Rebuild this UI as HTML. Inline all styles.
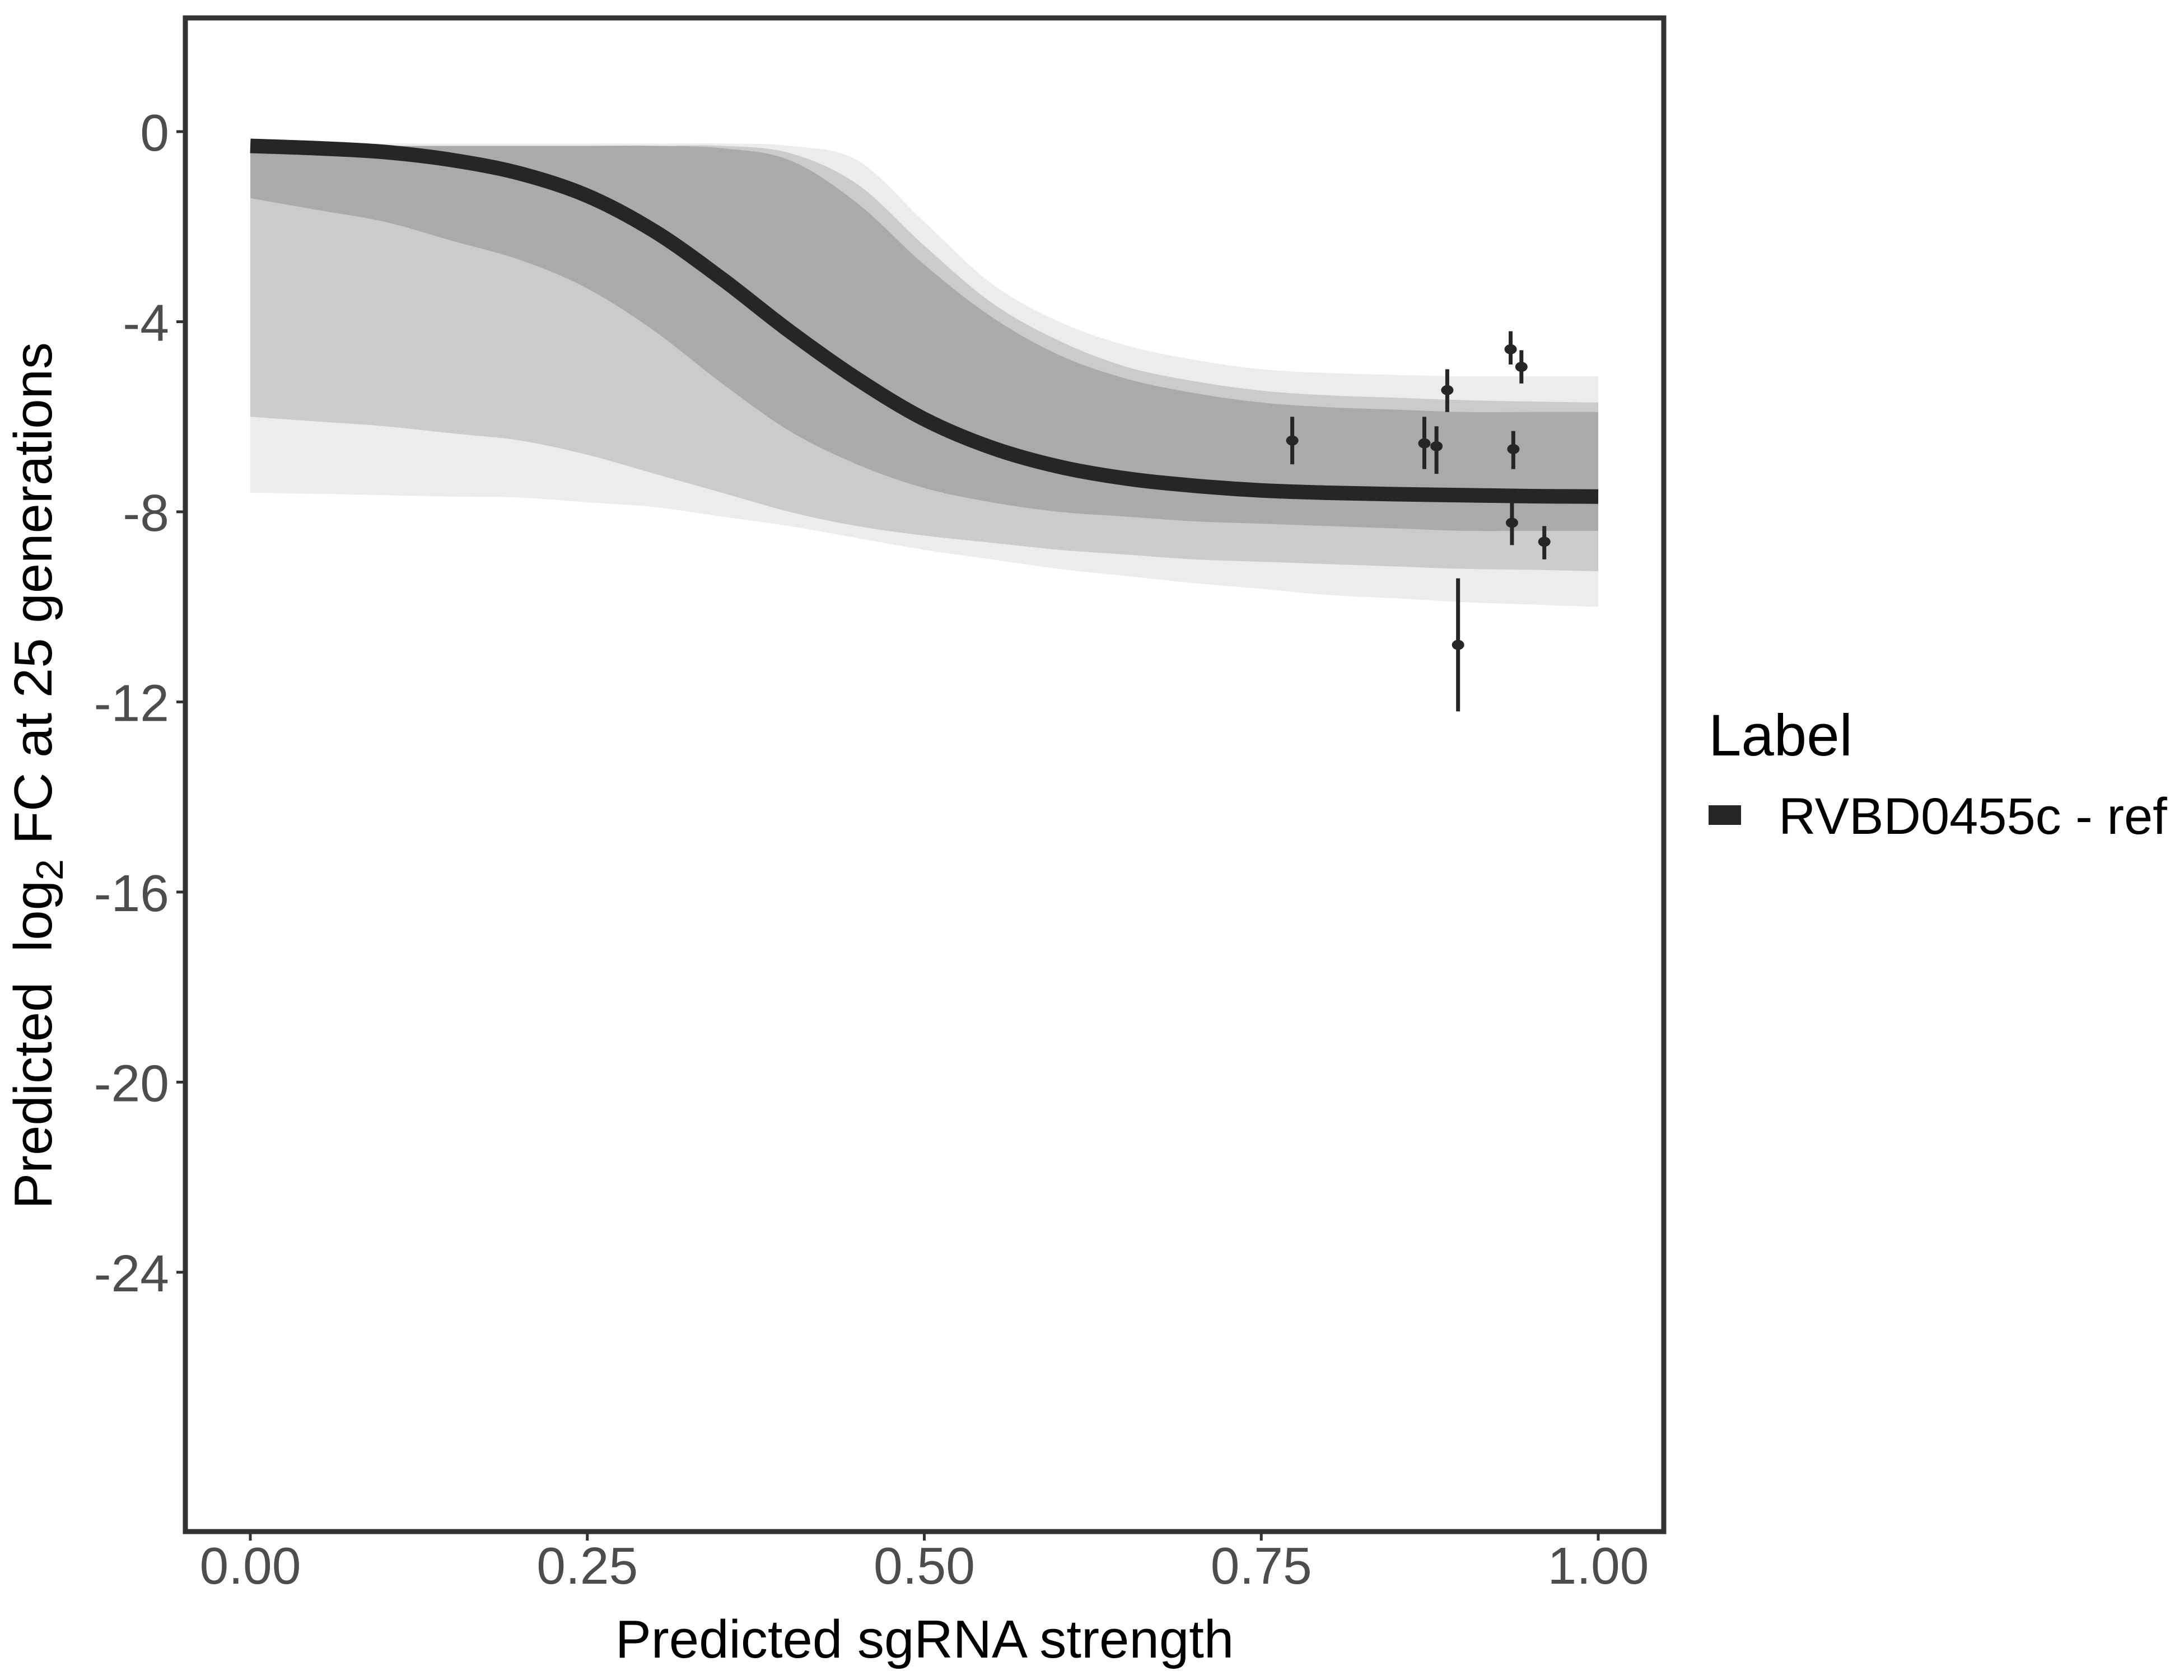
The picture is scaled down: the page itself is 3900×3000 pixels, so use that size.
<!DOCTYPE html>
<html><head><meta charset="utf-8"><style>
html,body{margin:0;padding:0;background:#fff;}
svg{display:block;font-family:"Liberation Sans",Arial,sans-serif;}
</style></head><body>
<svg id="chart" width="3900" height="3000" viewBox="0 0 3900 3000" xmlns="http://www.w3.org/2000/svg">
<rect x="0" y="0" width="3900" height="3000" fill="#fff"/>
<g id="bands"></g>
<g id="mainline"></g>
<g id="points"></g>
<g id="axes"></g>
<text x="1651" y="2960" font-size="96" fill="#000" text-anchor="middle">Predicted sgRNA strength</text>
<text transform="translate(92,1385) rotate(-90)" font-size="96" fill="#000" text-anchor="middle">Predicted&#160; log<tspan font-size="68" dy="20">2</tspan><tspan dy="-20"> FC at 25 generations</tspan></text>
<g>
<text x="3051" y="1349" font-size="105" fill="#000">Label</text>
<rect x="3051" y="1438" width="58" height="35" fill="#262626"/>
<text x="3176" y="1489" font-size="92" fill="#000">RVBD0455c - ref</text>
</g>
</svg>
<script>
// ---- data ----
const xs = [0,.05,.1,.15,.2,.25,.3,.35,.4,.45,.5,.55,.6,.65,.7,.75,.8,.85,.9,.95,1];
const fitY = [-0.3,-0.35,-0.43,-0.6,-0.88,-1.35,-2.1,-3.1,-4.2,-5.2,-6.05,-6.65,-7.05,-7.3,-7.45,-7.55,-7.6,-7.63,-7.65,-7.67,-7.68];
const outerUpper = [-0.25,-0.25,-0.25,-0.25,-0.25,-0.25,-0.25,-0.25,-0.3,-0.6,-1.9,-3.2,-4.0,-4.5,-4.8,-5.0,-5.08,-5.12,-5.15,-5.15,-5.15];
const outerLower = [-7.6,-7.62,-7.65,-7.68,-7.7,-7.8,-7.9,-8.1,-8.3,-8.55,-8.8,-9.0,-9.2,-9.35,-9.5,-9.62,-9.75,-9.82,-9.9,-9.95,-10.0];
const midUpper = [-0.3,-0.3,-0.3,-0.3,-0.3,-0.3,-0.3,-0.3,-0.45,-1.1,-2.4,-3.6,-4.4,-4.95,-5.25,-5.45,-5.55,-5.6,-5.65,-5.68,-5.7];
const midLower = [-6.0,-6.1,-6.2,-6.35,-6.5,-6.8,-7.2,-7.6,-8.0,-8.3,-8.5,-8.65,-8.8,-8.9,-9.0,-9.05,-9.1,-9.15,-9.2,-9.22,-9.25];
const denseUpper = [-0.3,-0.3,-0.3,-0.3,-0.3,-0.3,-0.3,-0.35,-0.6,-1.5,-2.8,-3.9,-4.7,-5.2,-5.5,-5.7,-5.8,-5.85,-5.9,-5.9,-5.9];
const denseLower = [-1.4,-1.65,-1.9,-2.3,-2.7,-3.3,-4.2,-5.3,-6.3,-7.0,-7.5,-7.8,-8.0,-8.1,-8.2,-8.25,-8.3,-8.35,-8.4,-8.4,-8.4];
const ptX = [0.773,0.871,0.880,0.888,0.896,0.935,0.943,0.937,0.936,0.960];
const ptY = [-6.5,-6.56,-6.62,-5.44,-10.8,-4.58,-4.95,-6.68,-8.23,-8.63];
const ptLo = [-7.0,-7.1,-7.2,-5.9,-12.2,-4.9,-5.3,-7.1,-8.7,-9.0];
const ptHi = [-6.0,-6.0,-6.2,-5.0,-9.4,-4.2,-4.6,-6.3,-7.8,-8.3];
const xTicks = [0,0.25,0.5,0.75,1];
const xTickLabels = ["0.00","0.25","0.50","0.75","1.00"];
const yTicks = [0,-4,-8,-12,-16,-20,-24];
const yTickLabels = ["0","-4","-8","-12","-16","-20","-24"];
// ---- scales ----
const X0=447, X1=2854, Y0=235, YPU=84.87;
const sx = v => X0 + v*(X1-X0);
const sy = v => Y0 - v*YPU;
const NS="http://www.w3.org/2000/svg";
function mk(tag, parent, attrs){const e=document.createElementNS(NS,tag);for(const k in attrs)e.setAttribute(k,attrs[k]);parent.appendChild(e);return e;}
function smooth(P, start){
  let d=(start?"M":" L")+P[0][0]+","+P[0][1];
  for(let i=0;i<P.length-1;i++){
    const p0=P[Math.max(i-1,0)],p1=P[i],p2=P[i+1],p3=P[Math.min(i+2,P.length-1)];
    const c1=[p1[0]+(p2[0]-p0[0])/6,p1[1]+(p2[1]-p0[1])/6];
    const c2=[p2[0]-(p3[0]-p1[0])/6,p2[1]-(p3[1]-p1[1])/6];
    d+=" C"+c1[0]+","+c1[1]+" "+c2[0]+","+c2[1]+" "+p2[0]+","+p2[1];
  }
  return d;
}
function pts(ys){return xs.map((x,i)=>[sx(x),sy(ys[i])]);}
function band(up, lo){
  return smooth(pts(up),true)+smooth(pts(lo).reverse(),false)+" Z";
}
const bands=document.getElementById('bands');
const b1=mk('path',bands,{d:band(outerUpper,outerLower),fill:'#ececec'});


const b2=mk('path',bands,{d:band(midUpper,midLower),fill:'#cbcbcb'});


const b3=mk('path',bands,{d:band(denseUpper,denseLower),fill:'#aaaaaa'});


const ml=mk('path',document.getElementById('mainline'),{d:smooth(pts(fitY),true),fill:'none',stroke:'#262626','stroke-width':26,'stroke-linejoin':'round'});


const pg=document.getElementById('points');
ptX.forEach((x,i)=>{
  const l=mk('line',pg,{x1:sx(x),x2:sx(x),y1:sy(ptHi[i]),y2:sy(ptLo[i]),stroke:'#262626','stroke-width':7});
  
  
  const c=mk('ellipse',pg,{cx:sx(x),cy:sy(ptY[i]),rx:11,ry:9,fill:'#262626'});
  
  
});
const ax=document.getElementById('axes');
const fr=mk('rect',ax,{x:331,y:32,width:2640,height:2703,fill:'none',stroke:'#333','stroke-width':9});


xTicks.forEach((v,i)=>{
  const t=mk('line',ax,{x1:sx(v),x2:sx(v),y1:2739,y2:2751,stroke:'#333','stroke-width':5});
  
  
  const tx=mk('text',ax,{x:sx(v),y:2828,'font-size':93,fill:'#4d4d4d','text-anchor':'middle'});
  tx.textContent=xTickLabels[i];
  
  
});
yTicks.forEach((v,i)=>{
  const t=mk('line',ax,{x1:315,x2:327,y1:sy(v),y2:sy(v),stroke:'#333','stroke-width':5});
  
  
  const tx=mk('text',ax,{x:302,y:sy(v)+34,'font-size':93,fill:'#4d4d4d','text-anchor':'end'});
  tx.textContent=yTickLabels[i];
  
  
});
</script>
</body></html>
